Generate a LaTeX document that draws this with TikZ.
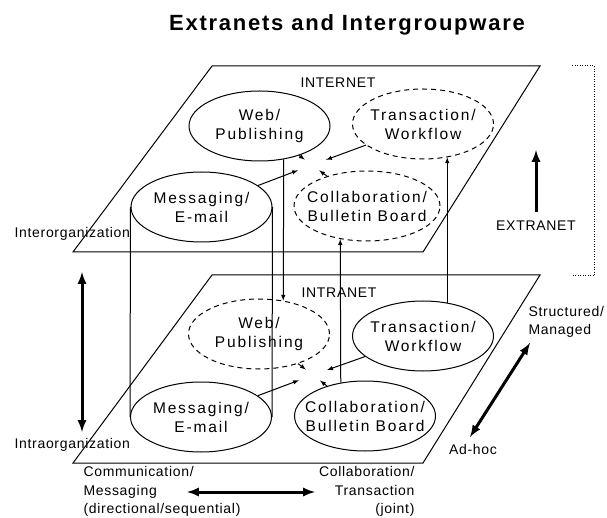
\documentclass[tikz,border=0pt]{standalone}
\usepackage{fontspec}
\setmainfont{Liberation Sans}
\newfontfamily\lblfont{Liberation Sans}[LetterSpace=5]
\newfontfamily\ellfont{Liberation Sans}[LetterSpace=12]
\newfontfamily\ttlfont{Liberation Sans}[LetterSpace=8]
\usepackage{tikz}
\usetikzlibrary{arrows,shapes.geometric}

\begin{document}
\begin{tikzpicture}[x=1pt,y=-1pt,line width=1pt,
  sys/.style={draw,ellipse,inner sep=0pt,minimum width=141pt,minimum height=70pt},
  virt/.style={sys,dash pattern=on 5pt off 4pt},
  sysname/.style={font=\ellfont\fontsize{15.5}{19}\selectfont,align=center},
  lbl/.style={font=\lblfont\fontsize{14}{18.5}\selectfont,inner sep=0pt},
  flow/.style={-latex},
  bigarrow/.style={line width=3pt,>=latex}]
  \useasboundingbox (0,0) rectangle (607,518);
  % planes
  \draw (212,66) -- (540,66) -- (423,252) -- (73,252) -- cycle;
  \draw (212,275) -- (540,275) -- (423,463) -- (73,463) -- cycle;
  \draw[dash pattern=on 1pt off 1.5pt] (572,66) -- (594,66) -- (594,276) -- (572,276);
  % internet level
  \node[sys,label={[sysname]center:{Web/\\Publishing}}] (T-1) at (259.5,126) {};
  \node[virt,label={[sysname]center:{Transaction/\\Workflow}}] (T-2) at (423,124) {};
  \node[sys,label={[sysname]center:{Messaging/\\E-mail}}] (T-3) at (201.5,207) {};
  \node[virt,minimum width=146pt,label={[sysname]center:{Collaboration/\\Bulletin Board}}] (T-4) at (367,206) {};
  % intranet level
  \node[virt,label={[sysname]center:{Web/\\Publishing}}] (B-1) at (259,334) {};
  \node[sys,label={[sysname]center:{Transaction/\\Workflow}}] (B-2) at (423,336) {};
  \node[sys,label={[sysname]center:{Messaging/\\E-mail}}] (B-3) at (201,417) {};
  \node[sys,label={[sysname]center:{Collaboration/\\Bulletin Board}}] (B-4) at (365,416) {};
  \coordinate (T-c) at (312,165);
  \coordinate (B-c) at (313,375);
  \draw[flow,shorten >=9pt] (T-1) -- (T-c);
  \draw[flow,shorten >=15pt] (T-2) -- (T-c);
  \draw[flow,shorten >=15pt] (T-3) -- (T-c);
  \draw[flow,shorten >=9pt] (T-4) -- (T-c);
  \draw[flow,shorten >=9pt] (B-1) -- (B-c);
  \draw[flow,shorten >=15pt] (B-2) -- (B-c);
  \draw[flow,shorten >=15pt] (B-3) -- (B-c);
  \draw[flow,shorten >=9pt] (B-4) -- (B-c);
  % between levels
  \draw (T-3.west) -- (B-3.west);
  \draw (T-3.east) -- (B-3.east);
  \draw[flow] (T-1.-54.5) -- (B-1.54);
  \draw[flow] (B-4.126) -- (T-4.231.3);
  \draw[flow] (B-2.54) -- (T-2.-54);
  % labels
  \node[font=\ttlfont\bfseries\fontsize{22}{26}\selectfont] (title) at (347,25) {Extranets and Intergroupware};
  \node[lbl] (internet) at (338,83) {INTERNET};
  \node[lbl] (intranet) at (339,293) {INTRANET};
  \node[lbl] (extranet) at (536,226) {EXTRANET};
  \node[lbl,anchor=west] (inter) at (14,234) {Interorganization};
  \node[lbl,anchor=west] (intra) at (14,445) {Intraorganization};
  \node[lbl,anchor=west,align=left] (struct) at (528,322) {Structured/\\Managed};
  \node[lbl] (adhoc) at (473,449) {Ad-hoc};
  \node[lbl,anchor=west,align=left] (comm) at (83,491.5) {Communication/\\Messaging\\(directional/sequential)};
  \node[lbl,anchor=east,align=right] (collab) at (415,491.5) {Collaboration/\\Transaction\\(joint)};
  \coordinate (io-1) at (82,272);
  \coordinate (io-2) at (82,432);
  \coordinate (ex-1) at (536,212);
  \coordinate (ex-2) at (536,150);
  \coordinate (sa-1) at (530,343);
  \coordinate (sa-2) at (470,437);
  \coordinate (ct-1) at (187,492);
  \coordinate (ct-2) at (315,492);
  \draw[bigarrow,<->] (io-1) -- (io-2);
  \draw[bigarrow,->] (ex-1) -- (ex-2);
  \draw[bigarrow,<->] (sa-1) -- (sa-2);
  \draw[bigarrow,<->] (ct-1) -- (ct-2);
\end{tikzpicture}
\end{document}
